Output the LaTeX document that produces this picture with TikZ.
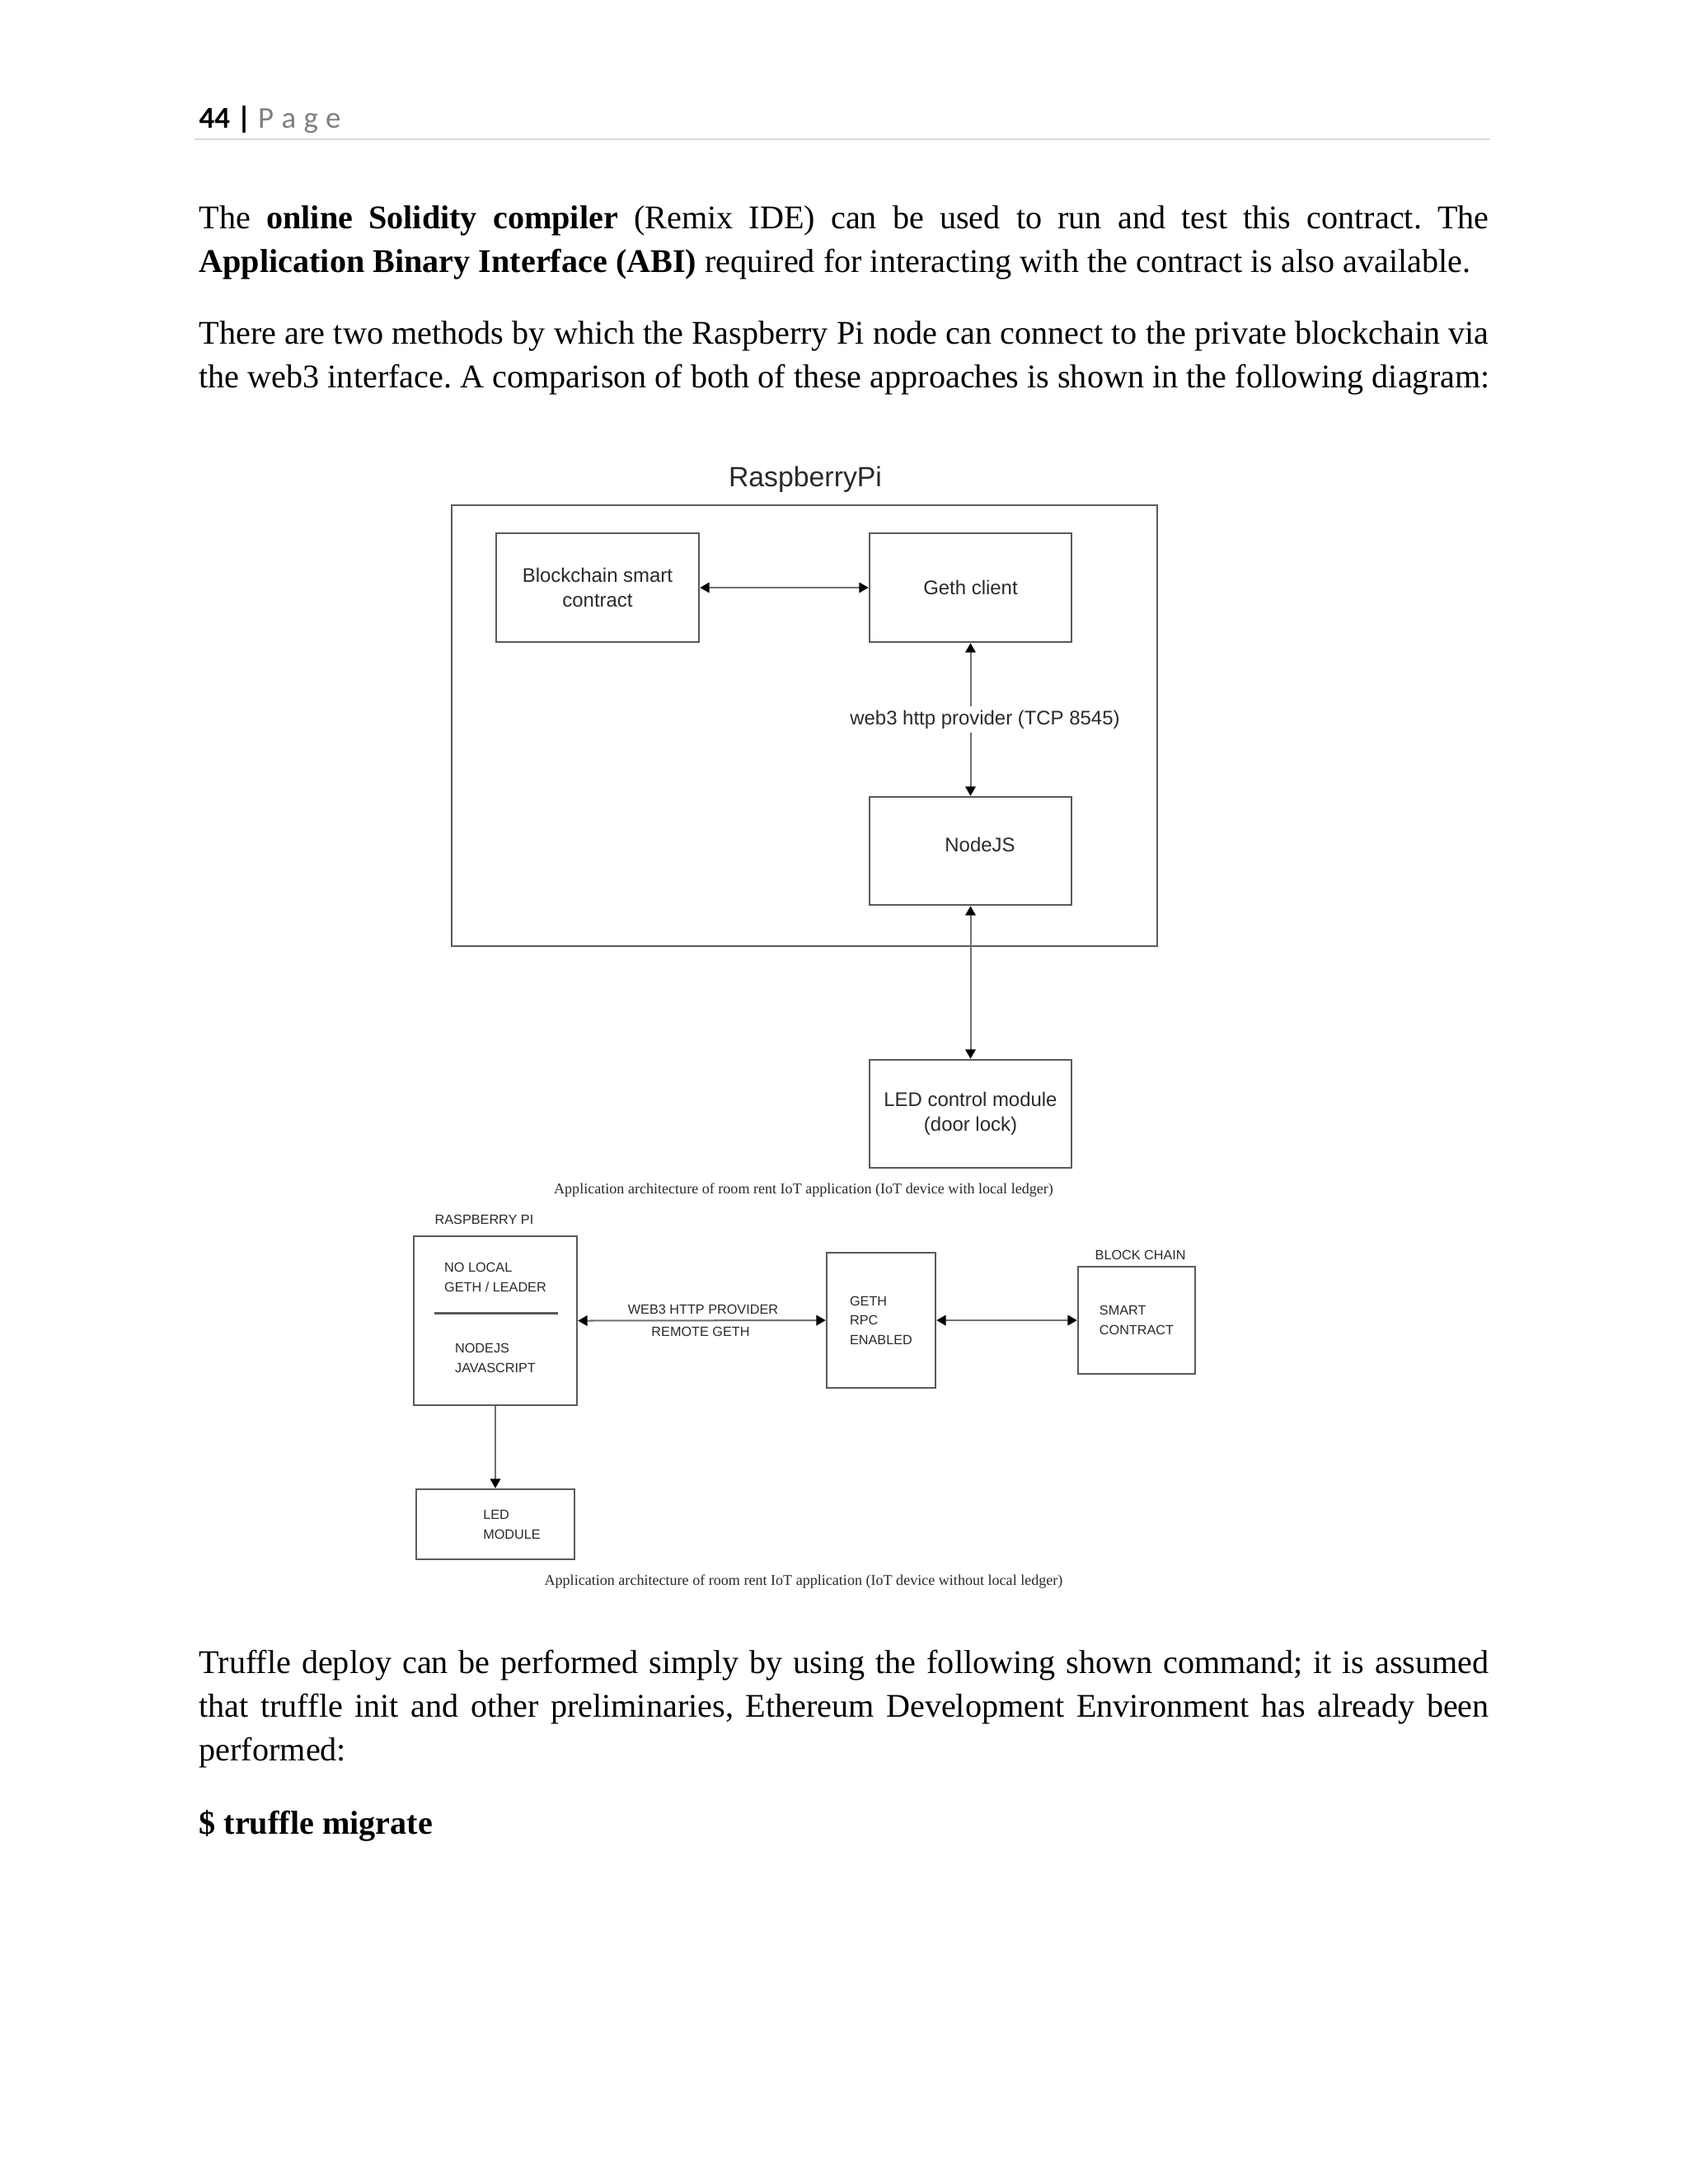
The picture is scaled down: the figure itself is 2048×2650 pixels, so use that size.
\documentclass[tikz,border=0pt]{standalone}
\usepackage{fontspec}
\setmainfont{Liberation Serif}
\newfontfamily\diag{Liberation Sans}
\newfontfamily\hdr{Carlito}
\usetikzlibrary{fit,arrows.meta}
\definecolor{boxcol}{HTML}{5A5A5A}
\definecolor{linecol}{HTML}{707070}
\definecolor{txtcol}{HTML}{2A2A2A}
\definecolor{pagegray}{HTML}{7F7F7F}
\definecolor{rulecol}{HTML}{D9D9D9}
\newcommand\jl[1]{\makebox[467.6pt][s]{#1}}
\frenchspacing
\begin{document}
\begin{tikzpicture}[x=0.2988pt,y=-0.2988pt,
  body/.style={anchor=base west, inner sep=0pt, font=\fontsize{12}{14}\selectfont},
  boxA/.style={draw=boxcol, line width=0.75pt, inner sep=0pt},
  txtA/.style={inner sep=0pt, align=center, text=txtcol, font=\diag\fontsize{7.15}{9}\selectfont},
  boxB/.style={draw=boxcol, line width=0.7pt, inner sep=0pt},
  txtB/.style={inner sep=0pt, align=left, text=txtcol, font=\diag\fontsize{4.85}{7}\selectfont},
  capt/.style={anchor=base, inner sep=0pt, text=txtcol, font=\fontsize{5.4}{6.5}\selectfont},
  dbl/.style={draw=linecol, line width=0.6pt,
     {Triangle[length=3.4pt,width=3.7pt,color=black]}-{Triangle[length=3.4pt,width=3.7pt,color=black]}},
  sgl/.style={draw=linecol, line width=0.6pt, -{Triangle[length=3.4pt,width=3.7pt,color=black]}}
]
\useasboundingbox[fill=white] (0,0) rectangle (2048,2650);

% header
\node[anchor=base west, inner sep=0pt, font=\hdr\fontsize{11}{13}\selectfont] (hdr) at (241,155)
  {\textbf{44 |} \textcolor{pagegray}{P\hspace{2.8pt}a\hspace{2.8pt}g\hspace{2.8pt}e}};
\draw[rulecol, line width=0.6pt] (236,169) -- (1808,169);

% body text
\node[body] (p1a) at (241,277) {\jl{The \textbf{online Solidity compiler} (Remix IDE) can be used to run and test this contract. The}};
\node[body] (p1b) at (241,330) {\textbf{Application Binary Interface (ABI)} required for interacting with the contract is also available.};
\node[body] (p2a) at (241,417) {\jl{There are two methods by which the Raspberry Pi node can connect to the private blockchain via}};
\node[body] (p2b) at (241,470) {the web3 interface. A comparison of both of these approaches is shown in the following diagram:};

% top diagram
\node[anchor=base, inner sep=0pt, text=txtcol, font=\diag\fontsize{10.1}{12}\selectfont] (title) at (977,590) {RaspberryPi};
\node[boxA, fit={(548,613) (1404,1148)}] (rpi) {};
\node[boxA, fit={(602,647) (848,779)}] (bsc) {};
\node[txtA] (bsct) at (bsc.center) {Blockchain smart\\contract};
\node[boxA, fit={(1055,647) (1300,779)}] (geth) {};
\node[txtA] (getht) at (geth.center) {Geth client};
\node[boxA, fit={(1055,967) (1300,1098)}] (nodejs) {};
\node[txtA] (nodejst) at (1189,1025) {NodeJS};
\node[boxA, fit={(1055,1286) (1300,1417)}] (led) {};
\node[txtA] (ledt) at (led.center) {LED control module\\(door lock)};
\draw[dbl] (bsc.east) -- (geth.west);
\draw[dbl] (geth.south) -- (nodejs.north);
\node[txtA, fill=white, inner ysep=1.5pt] (w3) at (1195,873) {web3 http provider (TCP 8545)};
\draw[dbl] (nodejs.south) -- (led.north);
\node[capt] (cap1) at (975,1448) {Application architecture of room rent IoT application (IoT device with local ledger)};

% bottom diagram
\node[txtB, anchor=base west] (rpil) at (527,1485) {RASPBERRY PI};
\node[boxB, fit={(502,1500) (700,1705)}] (rpi2) {};
\node[txtB] (nolocal) at (601,1550) {NO LOCAL\\GETH / LEADER};
\draw[boxcol, line width=0.9pt] (527,1593) -- (677,1593);
\node[txtB] (nodejs2) at (601,1648) {NODEJS\\JAVASCRIPT};
\node[boxB, fit={(1003,1520) (1135,1684)}] (geth2) {};
\node[txtB] (geth2t) at (geth2.center) {GETH\\RPC\\ENABLED};
\node[txtB, anchor=base west] (bcl) at (1328,1528) {BLOCK CHAIN};
\node[boxB, fit={(1308,1537) (1450,1667)}] (sc) {};
\node[txtB] (sct) at (sc.center) {SMART\\CONTRACT};
\draw[dbl] (rpi2.east) -- (geth2.west);
\node[txtB, anchor=base] (web3l) at (853,1594) {WEB3 HTTP PROVIDER};
\node[txtB, anchor=base] (remote) at (850,1621) {REMOTE GETH};
\draw[dbl] (geth2.east) -- (sc.west);
\node[boxB, fit={(505,1807) (697,1892)}] (ledm) {};
\node[txtB] (ledmt) at (621,1850) {LED\\MODULE};
\draw[sgl] (rpi2.south) -- (ledm.north);
\node[capt] (cap2) at (975,1923) {Application architecture of room rent IoT application (IoT device without local ledger)};

% closing text
\node[body] (p3a) at (241,2030) {\jl{Truffle deploy can be performed simply by using the following shown command; it is assumed}};
\node[body] (p3b) at (241,2083) {\jl{that truffle init and other preliminaries, Ethereum Development Environment has already been}};
\node[body] (p3c) at (241,2136) {performed:};
\node[body] (p4) at (241,2225) {\textbf{\$ truffle migrate}};
\end{tikzpicture}
\end{document}
